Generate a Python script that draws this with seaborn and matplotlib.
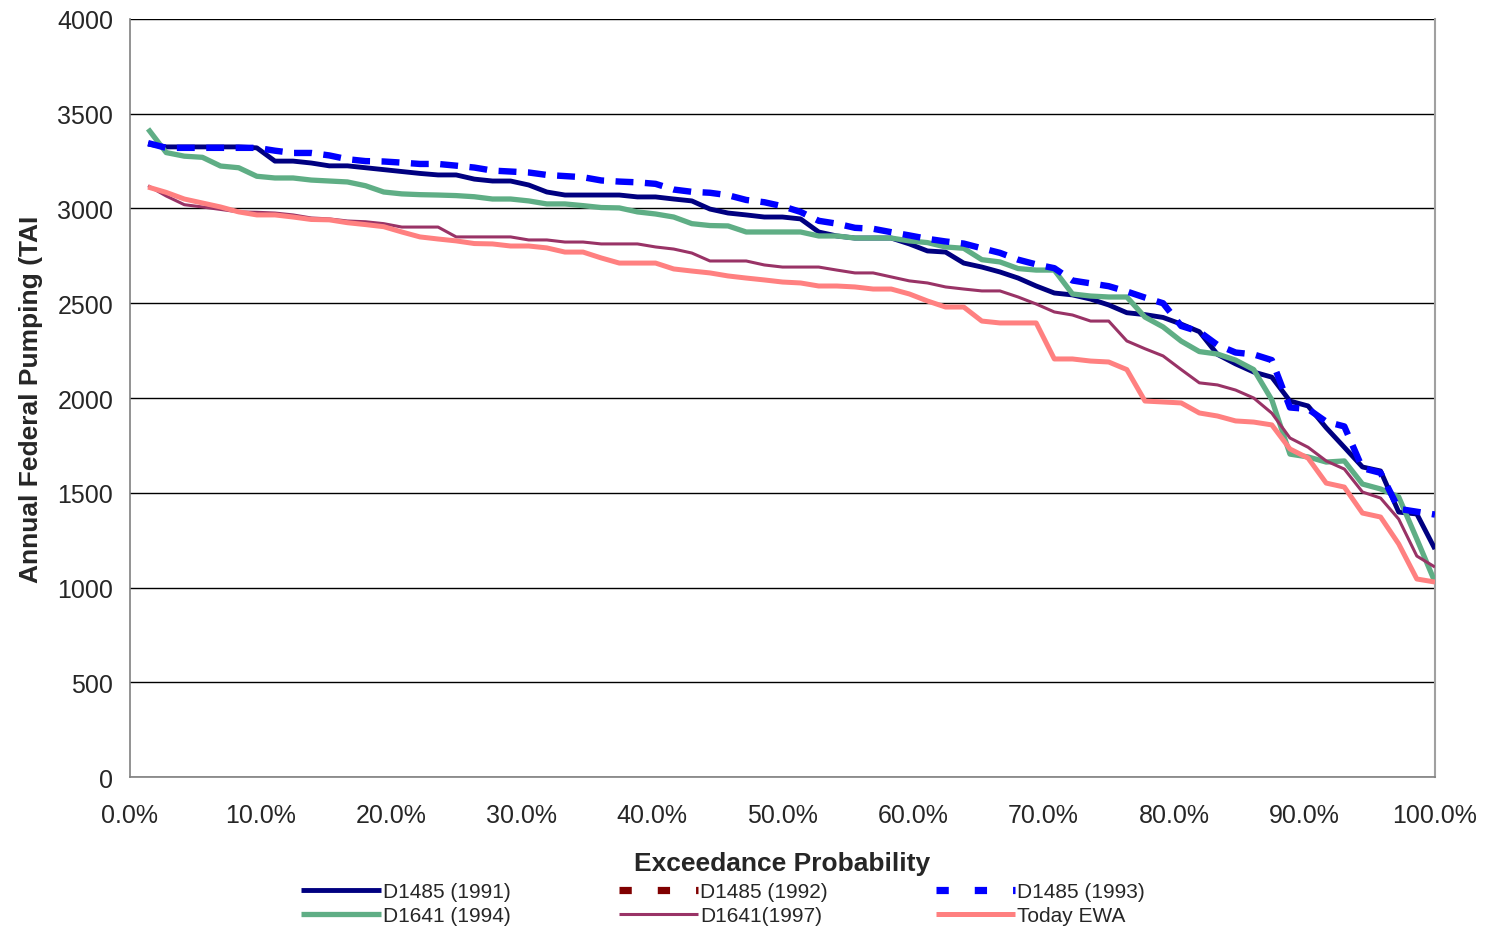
import numpy as np
import pandas as pd
import matplotlib
matplotlib.use("Agg")
import matplotlib.pyplot as plt
import seaborn as sns
from matplotlib.lines import Line2D
from matplotlib.ticker import FuncFormatter, MultipleLocator

# =========================
# DATA
# =========================
n_years = 72
prob = [i / n_years for i in range(1, n_years + 1)]

d1485_1991 = [3340, 3325, 3325, 3325, 3325, 3325, 3320, 3250, 3250, 3240,
              3225, 3225, 3215, 3205, 3195, 3185, 3177, 3177, 3155, 3145,
              3145, 3124, 3087, 3071, 3071, 3071, 3071, 3061, 3061, 3050,
              3040, 2997, 2976, 2966, 2955, 2955, 2945, 2876, 2855, 2844,
              2844, 2844, 2813, 2776, 2770, 2712, 2691, 2665, 2633, 2591,
              2554, 2544, 2522, 2491, 2450, 2440, 2425, 2390, 2350, 2230,
              2180, 2137, 2110, 1984, 1958, 1843, 1740, 1636, 1615, 1398,
              1388, 1203]

d1485_1993 = [3345, 3320, 3320, 3320, 3320, 3320, 3320, 3305, 3293, 3293,
              3280, 3260, 3250, 3248, 3242, 3235, 3235, 3226, 3216, 3200,
              3195, 3190, 3177, 3171, 3165, 3148, 3142, 3138, 3130, 3100,
              3088, 3083, 3070, 3045, 3033, 3012, 2982, 2935, 2920, 2898,
              2893, 2875, 2858, 2840, 2826, 2815, 2790, 2766, 2730, 2705,
              2685, 2620, 2605, 2590, 2562, 2530, 2500, 2380, 2350, 2280,
              2240, 2230, 2200, 1950, 1942, 1875, 1850, 1630, 1605, 1415,
              1400, 1385]

d1641_1994 = [3420, 3295, 3276, 3270, 3224, 3215, 3170, 3161, 3161, 3150,
              3145, 3140, 3120, 3087, 3077, 3073, 3071, 3068, 3062, 3050,
              3050, 3040, 3024, 3024, 3015, 3005, 3003, 2982, 2971, 2955,
              2920, 2910, 2908, 2876, 2876, 2876, 2876, 2855, 2855, 2844,
              2844, 2844, 2829, 2820, 2797, 2790, 2730, 2718, 2683, 2675,
              2675, 2549, 2538, 2533, 2533, 2427, 2375, 2300, 2245, 2232,
              2200, 2150, 1990, 1704, 1689, 1662, 1668, 1546, 1520, 1478,
              1256, 1029]

d1641_1997 = [3120, 3066, 3020, 3008, 2995, 2982, 2980, 2976, 2966, 2950,
              2945, 2934, 2930, 2920, 2902, 2902, 2902, 2850, 2850, 2850,
              2850, 2834, 2834, 2823, 2823, 2813, 2813, 2813, 2797, 2786,
              2765, 2723, 2723, 2723, 2702, 2691, 2691, 2691, 2675, 2660,
              2660, 2639, 2618, 2607, 2586, 2575, 2565, 2565, 2533, 2496,
              2454, 2438, 2406, 2406, 2301, 2260, 2222, 2150, 2080, 2069,
              2042, 2000, 1920, 1789, 1740, 1668, 1625, 1504, 1472, 1361,
              1166, 1108]

today_ewa = [3113, 3085, 3050, 3029, 3008, 2982, 2966, 2966, 2955, 2942,
             2940, 2925, 2915, 2904, 2876, 2850, 2839, 2829, 2815, 2813,
             2802, 2802, 2792, 2770, 2770, 2739, 2712, 2712, 2712, 2681,
             2670, 2660, 2644, 2633, 2623, 2612, 2607, 2591, 2591, 2586,
             2575, 2575, 2549, 2512, 2480, 2480, 2406, 2396, 2396, 2396,
             2206, 2206, 2195, 2190, 2150, 1984, 1979, 1974, 1921, 1905,
             1879, 1873, 1858, 1731, 1683, 1551, 1530, 1393, 1372, 1230,
             1045, 1029]

y_ticks = [0, 500, 1000, 1500, 2000, 2500, 3000, 3500, 4000]

# =========================
# STYLE
# =========================
sns.set_style("white")
plt.rcParams['font.family'] = ['Liberation Sans', 'DejaVu Sans']

fig = plt.figure(figsize=(14.85, 9.29), dpi=100)
ax = fig.add_axes([0.0875, 0.1625, 0.8788, 0.816])

# series: (label, data, color, width, dashes, zorder)
series = [
    ("D1485 (1991)", d1485_1991, "#000080", 3.5, None, 3),
    ("D1485 (1993)", d1485_1993, "#0000FF", 4.6, (2.8, 1.8), 4),
    ("D1641 (1994)", d1641_1994, "#5FAE85", 3.8, None, 3),
    ("D1641(1997)", d1641_1997, "#993366", 2.2, None, 3),
    ("Today EWA", today_ewa, "#FF8080", 3.6, None, 3),
]

handles = {}
for label, vals, color, lw, dashes, z in series:
    sns.lineplot(x=prob, y=vals, ax=ax, color=color, linewidth=lw,
                 label=label, zorder=z, legend=False)
    line = ax.lines[-1]
    if dashes is not None:
        line.set_dashes(dashes)
    line.set_solid_capstyle("butt")
    handles[label] = line

# legend keys of the dashed runs use short square dashes
# (the 1992 run shows up only in the legend of the original)
handles["D1485 (1992)"] = Line2D([], [], color="#800000", linewidth=5.2,
                                 dashes=(1.7, 3.6))
handles["D1485 (1993)"] = Line2D([], [], color="#0000FF", linewidth=5.2,
                                 dashes=(1.7, 3.6))

# =========================
# AXES
# =========================
ax.set_xlim(0, 1.0)
ax.set_ylim(0, 4000)
ax.set_yticks(y_ticks)
ax.xaxis.set_major_locator(MultipleLocator(0.1))
ax.xaxis.set_major_formatter(FuncFormatter(lambda v, p: f"{v * 100:.1f}%"))

ax.yaxis.grid(True, color="black", linewidth=1.0)
ax.set_axisbelow(True)

for side in ["left", "bottom"]:
    ax.spines[side].set_color("#808080")
    ax.spines[side].set_linewidth(1.2)
ax.spines["right"].set_color("#A0A0A0")
ax.spines["right"].set_linewidth(1.5)
ax.spines["top"].set_visible(False)

ax.tick_params(axis="both", direction="out", length=6, width=1,
               color="#808080", labelsize=18, pad=6)
ax.tick_params(axis="x", pad=13)

ax.set_xlabel("Exceedance Probability", fontsize=19, fontweight="bold", labelpad=17)
ax.set_ylabel("Annual Federal Pumping (TAI", fontsize=19, fontweight="bold",
              labelpad=10)

# =========================
# LEGEND
# =========================
order = ["D1485 (1991)", "D1641 (1994)", "D1485 (1992)", "D1641(1997)",
         "D1485 (1993)", "Today EWA"]
fig.legend([handles[k] for k in order], order, loc="lower center",
           bbox_to_anchor=(0.487, -0.017), ncol=3, frameon=False,
           fontsize=15, handlelength=3.8, handletextpad=0.1,
           columnspacing=5.2, labelspacing=0.25)

fig.savefig("out.png", dpi=100)
